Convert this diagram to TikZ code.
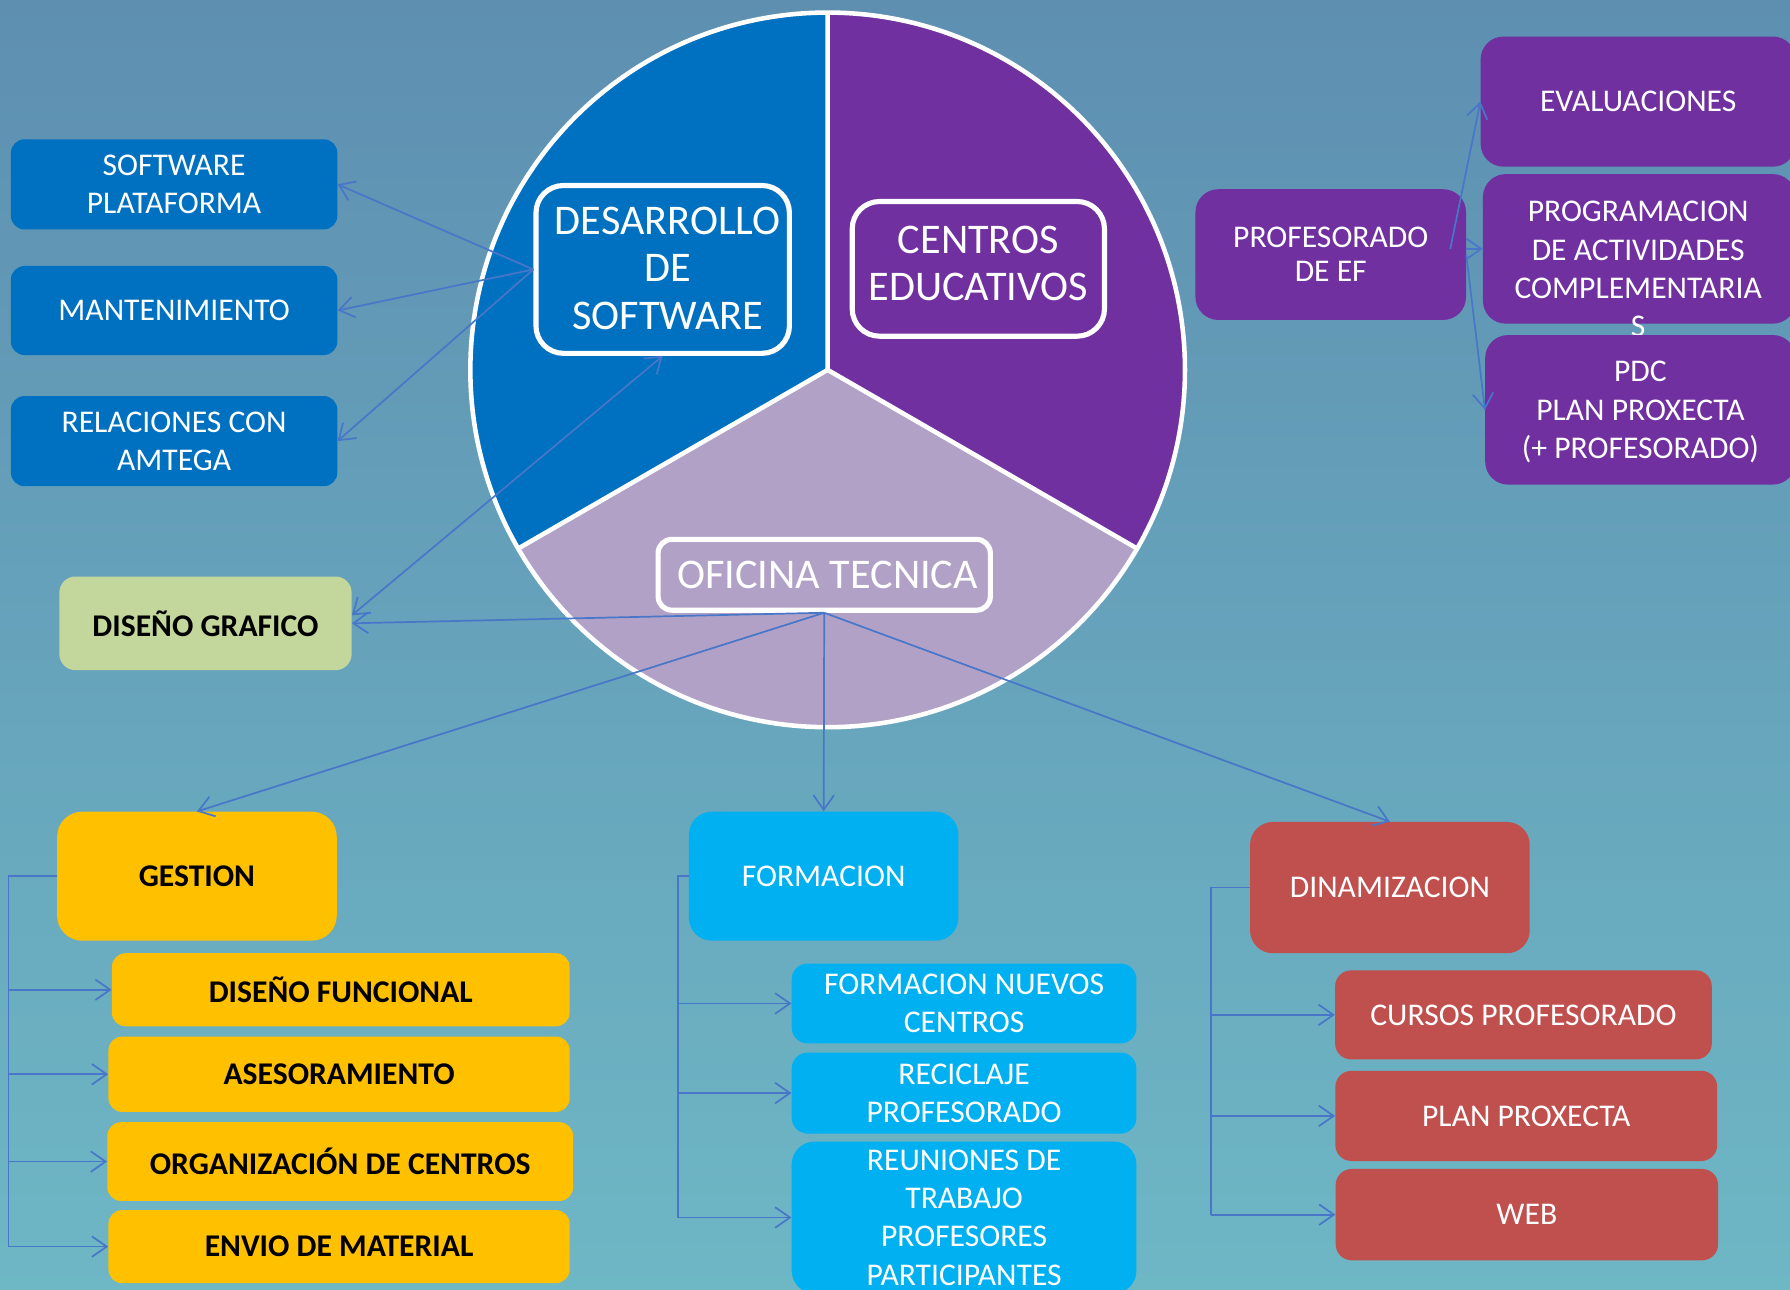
\documentclass[tikz,border=0pt]{standalone}
\usepackage{fontspec}
\setmainfont{Carlito}
\usetikzlibrary{arrows.meta,calc}
\definecolor{bgtop}{RGB}{94,143,177}
\definecolor{bgbot}{RGB}{110,183,197}
\definecolor{cblue}{RGB}{0,112,192}
\definecolor{cpurple}{RGB}{112,48,160}
\definecolor{clilac}{RGB}{178,161,199}
\definecolor{cgreen}{RGB}{195,214,155}
\definecolor{cgold}{RGB}{255,192,0}
\definecolor{ccyan}{RGB}{0,176,240}
\definecolor{cred}{RGB}{192,80,77}
\definecolor{cline}{RGB}{72,118,200}
\newcommand{\smtxt}{\fontsize{27.7pt}{33.6pt}\selectfont}
\newcommand{\bigtxt}{\fontsize{37pt}{41.5pt}\selectfont}
\tikzset{
  wbox/.style={rounded corners=12pt, inner sep=0pt, align=center, text=white, font=\smtxt},
  kbox/.style={rounded corners=12pt, inner sep=0pt, align=center, text=black, font=\smtxt\bfseries},
  ibox/.style={draw=white, line width=4.5pt, rounded corners=24pt, inner sep=0pt, align=center, text=white, font=\bigtxt},
  conn/.style={draw=cline, line width=1.5pt},
  arr/.style={conn, -{Straight Barb[length=13pt,width=18pt]}},
  arrb/.style={conn, {Straight Barb[length=13pt,width=18pt]}-{Straight Barb[length=13pt,width=18pt]}}
}
\begin{document}
\begin{tikzpicture}[x=1pt,y=-1pt]
\useasboundingbox (0,0) rectangle (1568,1130);
\clip (0,0) rectangle (1568,1130);
\shade[top color=bgtop, bottom color=bgbot] (0,0) rectangle (1568,1130);

% pie
\coordinate (C) at (725,324);
\fill[cblue] (C) -- ++(150:313) arc[start angle=150,end angle=270,radius=313] -- cycle;
\fill[cpurple] (C) -- ++(-90:313) arc[start angle=-90,end angle=30,radius=313] -- cycle;
\fill[clilac] (C) -- ++(30:313) arc[start angle=30,end angle=150,radius=313] -- cycle;
\draw[white, line width=4pt] (C) circle[radius=313];
\draw[white, line width=4pt] (C) -- ++(-90:313) (C) -- ++(30:313) (C) -- ++(150:313);

\node[ibox, fill=cblue, minimum width=222pt, minimum height=147pt, text depth=2pt] (des) at (580.5,236) {\hspace*{9pt}DESARROLLO\\\hspace*{9pt}DE\\\hspace*{9pt}SOFTWARE};
\node[ibox, fill=cpurple, minimum width=221pt, minimum height=118pt, text depth=10pt] (cen) at (857,235.5) {CENTROS\\EDUCATIVOS};
\node[ibox, fill=clilac, rounded corners=12pt, minimum width=291pt, minimum height=62pt] (ofi) at (722,503.5) {\hspace*{6pt}OFICINA TECNICA};

% left boxes
\node[wbox, fill=cblue, minimum width=286pt, minimum height=79pt] (sw) at (152.5,161.5) {SOFTWARE\\PLATAFORMA};
\node[wbox, fill=cblue, minimum width=286pt, minimum height=78pt] (mant) at (152.5,272) {MANTENIMIENTO};
\node[wbox, fill=cblue, minimum width=286pt, minimum height=79pt] (rel) at (152.5,386.4) {RELACIONES CON\\AMTEGA};
\node[kbox, fill=cgreen, rounded corners=14pt, minimum width=256pt, minimum height=82pt] (dg) at (180,546) {DISEÑO GRAFICO};

% right boxes
\node[wbox, fill=cpurple, rounded corners=20pt, font=\fontsize{27.7pt}{30pt}\selectfont, minimum width=237pt, minimum height=114.5pt] (prof) at (1165.7,223) {PROFESORADO\\DE EF};
\node[wbox, fill=cpurple, rounded corners=20pt, minimum width=276pt, minimum height=114pt] (eval) at (1435,89) {EVALUACIONES};
\node[wbox, fill=cpurple, rounded corners=20pt, minimum width=274pt, minimum height=131pt] (prog) at (1436,218) {};
\node[align=center, text=white, font=\smtxt, inner sep=0pt] (progt) at (1435,235.7) {PROGRAMACION\\DE ACTIVIDADES\\COMPLEMENTARIA\\S};
\node[wbox, fill=cpurple, rounded corners=20pt, minimum width=272pt, minimum height=131pt, text depth=0pt] (pdc) at (1437,359) {PDC\\PLAN PROXECTA\\(+ PROFESORADO)};

% gestion
\node[kbox, fill=cgold, rounded corners=22pt, minimum width=245pt, minimum height=113pt] (ges) at (172.5,767.5) {GESTION};
\node[kbox, fill=cgold, minimum width=401pt, minimum height=64pt] (df) at (298.5,867) {DISEÑO FUNCIONAL};
\node[kbox, fill=cgold, minimum width=404pt, minimum height=66pt] (ase) at (297,941) {ASESORAMIENTO};
\node[kbox, fill=cgold, minimum width=408pt, minimum height=69pt] (org) at (298,1017.5) {ORGANIZACIÓN DE CENTROS};
\node[kbox, fill=cgold, minimum width=404pt, minimum height=64pt] (env) at (297,1092) {ENVIO DE MATERIAL};

% formacion
\node[wbox, fill=ccyan, rounded corners=20pt, minimum width=236pt, minimum height=113pt] (fo) at (721.5,767.5) {FORMACION};
\node[wbox, fill=ccyan, rounded corners=14pt, minimum width=302pt, minimum height=70pt] (fnc) at (844.5,879) {FORMACION NUEVOS\\CENTROS};
\node[wbox, fill=ccyan, rounded corners=14pt, minimum width=302pt, minimum height=71pt] (rec) at (844.5,957.5) {RECICLAJE\\PROFESORADO};
\node[wbox, fill=ccyan, rounded corners=20pt, minimum width=302pt, minimum height=133pt] (reu) at (844.5,1066.5) {REUNIONES DE\\TRABAJO\\PROFESORES\\PARTICIPANTES};

% dinamizacion
\node[wbox, fill=cred, rounded corners=20pt, minimum width=245pt, minimum height=115pt] (din) at (1217.5,777.5) {DINAMIZACION};
\node[wbox, fill=cred, rounded corners=14pt, minimum width=330pt, minimum height=78pt] (cur) at (1334.5,889) {CURSOS PROFESORADO};
\node[wbox, fill=cred, rounded corners=14pt, minimum width=334.5pt, minimum height=79pt] (plan) at (1337,977.5) {PLAN PROXECTA};
\node[wbox, fill=cred, rounded corners=14pt, minimum width=335pt, minimum height=80pt] (web) at (1337.5,1064) {WEB};

% connectors
\draw[arr] (des.west) -- (sw.east);
\draw[arr] (des.west) -- (mant.east);
\draw[arr] (des.west) -- (rel.east);
\draw[arr] (ofi.south) -- (dg.east);
\draw[arrb] ([yshift=7pt]dg.east) -- (des.south);
\draw[arr] (ofi.south) -- (ges.north);
\draw[arr] (ofi.south) -- (fo.north);
\draw[arr] (ofi.south) -- (din.north);

\draw[arr] ([xshift=-14pt,yshift=5pt]prof.east) -- (eval.west);
\draw[arr] ([yshift=5pt]prof.east) -- (prog.west);
\draw[arr] (prof.east) -- (pdc.west);

\coordinate (gx) at (7.5,767.5);
\draw[conn] (ges.west) -- (gx) -- (gx |- env.west);
\draw[arr] (gx |- df.west) -- (df.west);
\draw[arr] (gx |- ase.west) -- (ase.west);
\draw[arr] (gx |- org.west) -- (org.west);
\draw[arr] (gx |- env.west) -- (env.west);

\coordinate (fx) at (594,767.5);
\draw[conn] (fo.west) -- (fx) -- (fx |- reu.west);
\draw[arr] (fx |- fnc.west) -- (fnc.west);
\draw[arr] (fx |- rec.west) -- (rec.west);
\draw[arr] (fx |- reu.west) -- (reu.west);

\coordinate (dx) at (1061,777.5);
\draw[conn] (din.west) -- (dx) -- (dx |- web.west);
\draw[arr] (dx |- cur.west) -- (cur.west);
\draw[arr] (dx |- plan.west) -- (plan.west);
\draw[arr] (dx |- web.west) -- (web.west);
\end{tikzpicture}
\end{document}
